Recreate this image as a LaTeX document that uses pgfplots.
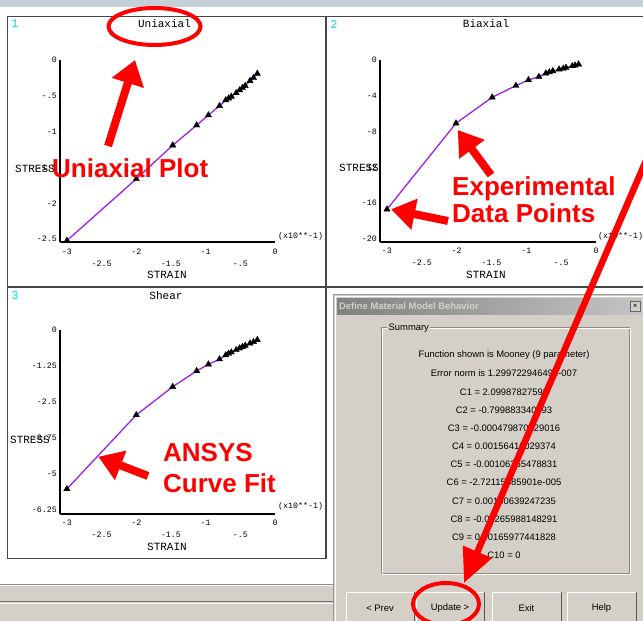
\documentclass[border=0pt]{standalone}
\usepackage{pgfplots}
\pgfplotsset{compat=1.18}
\usepackage{fontspec}
\setmainfont{Liberation Sans}
\newfontfamily\mono{Liberation Mono}
\usetikzlibrary{arrows.meta}
\definecolor{dlg}{RGB}{212,208,200}
\definecolor{fitc}{RGB}{160,32,240}
\definecolor{band}{RGB}{197,208,214}
\definecolor{frm}{RGB}{70,70,70}
\definecolor{panelno}{RGB}{0,225,225}
\definecolor{ared}{RGB}{255,0,0}
\definecolor{tbl}{RGB}{128,128,128}
\definecolor{tbr}{RGB}{196,196,196}
\definecolor{ttx}{RGB}{212,208,200}

\newcommand\tickfont{\mono\fontsize{8.3bp}{9bp}\selectfont}
\newcommand\lblfont{\mono\fontsize{11bp}{12bp}\selectfont}
\newcommand\dlgfont{\fontsize{9.4bp}{11bp}\selectfont}
\newcommand\annfont{\bfseries\fontsize{26bp}{28bp}\selectfont}

\pgfplotsset{
  ansys/.style={
    scale only axis, anchor=south west,
    axis x line*=bottom, axis y line*=left,
    axis line style={line width=1.6bp,-},
    major tick length=0pt, clip=false,
    xmin=-3.1, xmax=0, ymax=0,
    xtick={-3,-2,-1,0}, xticklabels={-3,-2,-1,0},
    extra x ticks={-2.5,-1.5,-0.5},
    extra x tick labels={-2.5,-1.5,-.5},
    extra x tick style={xticklabel style={yshift=-12bp}},
    xticklabel style={font=\tickfont, anchor=north, inner sep=0pt, yshift=-6.5bp},
    yticklabel style={font=\tickfont, anchor=east, inner sep=0pt, xshift=-3bp},
  },
  fit/.style={color=fitc, line width=1.3bp, no markers},
  pts/.style={only marks, mark=triangle*, mark size=3.6bp, color=black},
}

\newcommand\btn[5]{%
  \fill[dlg] (#1,-#2) rectangle (#3,-#4);
  \draw[white, line width=1bp] (#1,-#4) -- (#1,-#2) -- (#3,-#2);
  \draw[black!65, line width=1bp] (#1,-#4) -- (#3,-#4) -- (#3,-#2);
  \node[font=\dlgfont] at ({(#1+#3)/2},{-(#2+#4)/2}) {#5};
}

\begin{document}
\begin{tikzpicture}[x=1bp,y=1bp]
\path[use as bounding box] (0,0) rectangle (643,-621);
\clip (0,0) rectangle (643,-621);
\fill[white] (0,0) rectangle (643,-621);
\fill[band] (0,0) rectangle (643,-7.5);

% panel frames
\draw[frm, line width=1.2bp] (7.3,-16.7) rectangle (326,-287);
\draw[frm, line width=1.2bp] (326,-16.7) rectangle (660,-287);
\draw[frm, line width=1.2bp] (7.3,-287) rectangle (326,-558.3);

% bottom-left strip
\fill[dlg] (0,-584) rectangle (334,-621);
\draw[black!45, line width=1bp] (0,-584) -- (334,-584);
\draw[white, line width=1bp] (0,-585.5) -- (334,-585.5);
\draw[black!55, line width=1.2bp] (0,-601.5) -- (334,-601.5);
\draw[white, line width=1bp] (0,-603) -- (334,-603);

% ---------------- Panel 1: Uniaxial
\begin{axis}[ansys, at={(60bp,-242bp)}, width=215bp, height=182bp, ymin=-2.54,
  ytick={-2.5,-2,-1.5,-1,-0.5,0}, yticklabels={-2.5,-2,-1.5,-1,-.5,0}]
\addplot[fit] coordinates {(-3,-2.52) (-2,-1.66) (-1.475,-1.19) (-1.13,-0.91) (-0.96,-0.77) (-0.80,-0.64) (-0.71,-0.56) (-0.67,-0.535) (-0.63,-0.51) (-0.56,-0.46) (-0.51,-0.42) (-0.47,-0.39) (-0.43,-0.36) (-0.36,-0.29) (-0.31,-0.25) (-0.255,-0.19)};
\addplot[pts] coordinates {(-3,-2.52) (-2,-1.66) (-1.475,-1.19) (-1.13,-0.91) (-0.96,-0.77) (-0.80,-0.64) (-0.71,-0.56) (-0.67,-0.535) (-0.63,-0.51) (-0.56,-0.46) (-0.51,-0.42) (-0.47,-0.39) (-0.43,-0.36) (-0.36,-0.29) (-0.31,-0.25) (-0.255,-0.19)};
\end{axis}

% ---------------- Panel 2: Biaxial
\begin{axis}[ansys, at={(380bp,-241.7bp)}, width=216bp, height=181.7bp, ymin=-20.3,
  ytick={-20,-16,-12,-8,-4,0}, yticklabels={-20,-16,-12,-8,-4,0}]
\addplot[fit] coordinates {(-3,-16.68) (-2.01,-7.07) (-1.49,-4.17) (-1.15,-2.87) (-0.97,-2.23) (-0.82,-1.87) (-0.72,-1.49) (-0.67,-1.36) (-0.62,-1.23) (-0.53,-1.04) (-0.47,-0.95) (-0.43,-0.86) (-0.34,-0.67) (-0.30,-0.60) (-0.25,-0.48)};
\addplot[pts] coordinates {(-3,-16.68) (-2.01,-7.07) (-1.49,-4.17) (-1.15,-2.87) (-0.97,-2.23) (-0.82,-1.87) (-0.72,-1.49) (-0.67,-1.36) (-0.62,-1.23) (-0.53,-1.04) (-0.47,-0.95) (-0.43,-0.86) (-0.34,-0.67) (-0.30,-0.60) (-0.25,-0.48)};
\end{axis}

% ---------------- Panel 3: Shear
\begin{axis}[ansys, at={(60bp,-513.7bp)}, width=215bp, height=184.2bp, ymin=-6.4,
  ytick={-6.25,-5,-3.75,-2.5,-1.25,0}, yticklabels={-6.25,-5,-3.75,-2.5,-1.25,0}]
\addplot[fit] coordinates {(-3,-5.54) (-2,-2.97) (-1.475,-1.99) (-1.13,-1.44) (-0.96,-1.21) (-0.80,-1.03) (-0.71,-0.89) (-0.67,-0.84) (-0.63,-0.79) (-0.56,-0.71) (-0.51,-0.65) (-0.47,-0.60) (-0.43,-0.56) (-0.36,-0.48) (-0.31,-0.43) (-0.255,-0.36)};
\addplot[pts] coordinates {(-3,-5.54) (-2,-2.97) (-1.475,-1.99) (-1.13,-1.44) (-0.96,-1.21) (-0.80,-1.03) (-0.71,-0.89) (-0.67,-0.84) (-0.63,-0.79) (-0.56,-0.71) (-0.51,-0.65) (-0.47,-0.60) (-0.43,-0.56) (-0.36,-0.48) (-0.31,-0.43) (-0.255,-0.36)};
\end{axis}

% panel texts
\node[font=\mono\fontsize{12bp}{13bp}\selectfont, text=panelno] at (15,-24) {1};
\node[font=\mono\fontsize{12bp}{13bp}\selectfont, text=panelno] at (334,-24) {2};
\node[font=\mono\fontsize{12bp}{13bp}\selectfont, text=panelno] at (15,-296) {3};
\node[font=\lblfont] at (164.5,-24) {Uniaxial};
\node[font=\lblfont] at (486,-24) {Biaxial};
\node[font=\lblfont] at (166,-296) {Shear};
\node[font=\lblfont] at (167,-275) {STRAIN};
\node[font=\lblfont] at (486,-275) {STRAIN};
\node[font=\lblfont] at (167,-547) {STRAIN};
\node[font=\lblfont, anchor=west, inner sep=0pt] at (15,-169) {STRESS};
\node[font=\lblfont, anchor=west, inner sep=0pt] at (339,-168) {STRESS};
\node[font=\lblfont, anchor=west, inner sep=0pt] at (10,-440) {STRESS};
\node[font=\tickfont, anchor=west, inner sep=0pt] at (278,-236.7) {(x10**-1)};
\node[font=\tickfont, anchor=west, inner sep=0pt] at (598,-236) {(x10**-1)};
\node[font=\tickfont, anchor=west, inner sep=0pt] at (278,-506.7) {(x10**-1)};

% ---------------- dialog
\fill[dlg] (333,-294) rectangle (650,-630);
\draw[black!40, line width=1bp] (333.5,-630) -- (333.5,-294.5) -- (650,-294.5);
\draw[white, line width=1bp] (335,-630) -- (335,-296) -- (650,-296);
\shade[left color=tbl, right color=tbr] (337,-298) rectangle (641,-314);
\node[font=\bfseries\fontsize{9.4bp}{10bp}\selectfont, text=ttx, anchor=west, inner sep=0pt] at (339,-306) {Define Material Model Behavior};
\fill[dlg] (630.5,-301) rectangle (640,-311);
\draw[black!60, line width=0.6bp] (630.5,-301) rectangle (640,-311);
\node[font=\fontsize{8bp}{8bp}\selectfont, inner sep=0pt] at (635.3,-306) {×};
\draw[black!45, line width=1bp] (381,-327) rectangle (629,-573);
\draw[white, line width=1bp] (382,-328) rectangle (630,-574);
\node[font=\dlgfont, fill=dlg, anchor=west, inner sep=1.5bp] at (387,-328) {Summary};
\begin{scope}[every node/.style={font=\dlgfont, inner sep=0pt}]
\node at (504,-355) {Function shown is Mooney (9 parameter)};
\node at (504,-373) {Error norm is 1.29972294649e-007};
\node at (504,-392) {C1 = 2.09987827593};
\node at (504,-410) {C2 = -0.799883340093};
\node at (504,-428) {C3 = -0.000479870629016};
\node at (504,-446) {C4 = 0.00156416029374};
\node at (504,-464) {C5 = -0.00106255478831};
\node at (504,-482) {C6 = -2.72115385901e-005};
\node at (504,-501) {C7 = 0.00100639247235};
\node at (504,-519) {C8 = -0.00265988148291};
\node at (504,-537) {C9 = 0.00165977441828};
\node at (504,-555) {C10 = 0};
\end{scope}
\btn{346}{592}{414}{625}{< Prev}
\btn{416}{592}{484}{625}{Update >}
\btn{492}{592}{561}{625}{Exit}
\btn{567}{592}{636}{625}{Help}

% ---------------- red annotations
\draw[ared, line width=4bp] (154.5,-26.5) ellipse [x radius=46bp, y radius=18.5bp];
\draw[ared, line width=8bp, -{Triangle[length=24bp 0 0, width=32bp 0 0]}] (108,-146) -- (135,-60);
\node[font=\annfont, text=ared, anchor=base west, inner sep=0pt] at (52,-177.5) {Uniaxial Plot};
\draw[ared, line width=8bp, -{Triangle[length=24bp 0 0, width=30bp 0 0]}] (491,-175) -- (457.7,-130);
\draw[ared, line width=8bp, -{Triangle[length=24bp 0 0, width=30bp 0 0]}] (448,-221) -- (391,-209.3);
\node[font=\annfont, text=ared, anchor=base west, inner sep=0pt] at (452,-195) {Experimental};
\node[font=\annfont, text=ared, anchor=base west, inner sep=0pt] at (452,-222) {Data Points};
\draw[ared, line width=8bp, -{Triangle[length=24bp 0 0, width=30bp 0 0]}] (148,-476) -- (98.3,-456.7);
\node[font=\annfont, text=ared, anchor=base west, inner sep=0pt] at (163,-461.7) {ANSYS};
\node[font=\annfont, text=ared, anchor=base west, inner sep=0pt] at (163,-492) {Curve Fit};
\draw[ared, line width=6.5bp, -{Triangle[length=34bp 0 0, width=30bp 0 0]}] (679,-84) -- (464,-583);
\draw[ared, line width=4bp] (446,-604) ellipse [x radius=33bp, y radius=21bp];
\end{tikzpicture}
\end{document}
